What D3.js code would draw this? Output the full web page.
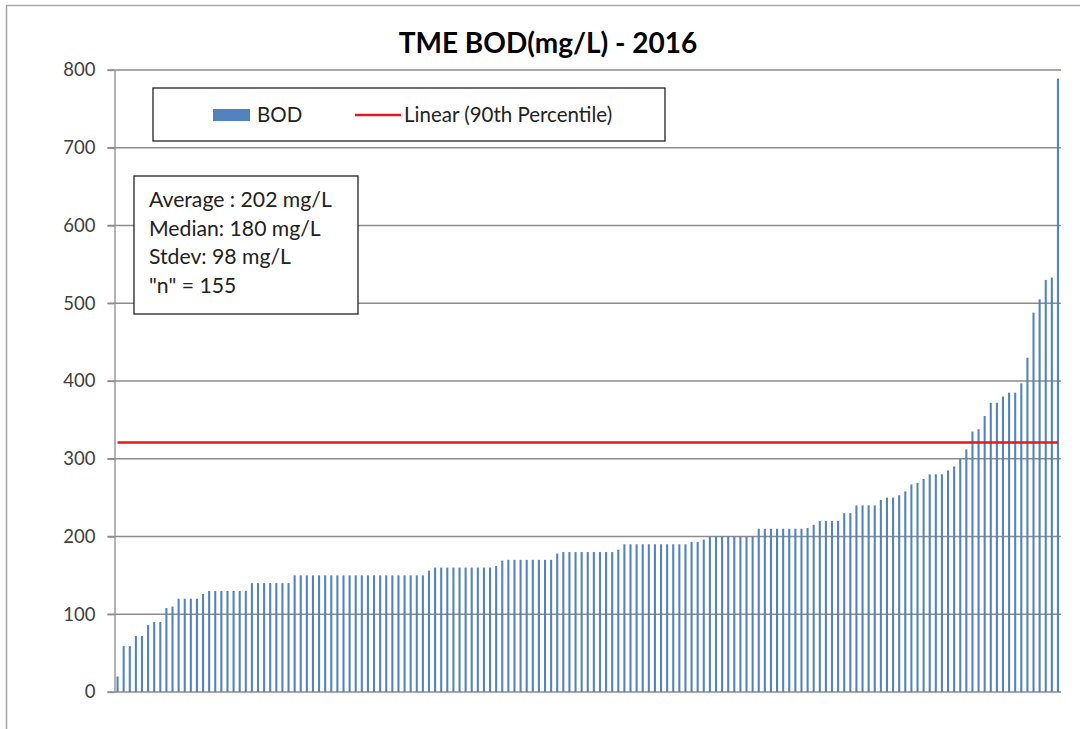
<!DOCTYPE html>
<html lang="en">
<head>
    <meta charset="UTF-8">
    <title>TME BOD 2016</title>
    <script src="https://d3js.org/d3.v7.min.js" charset="utf-8"></script>
    <style>
        body { margin: 0; background: #fff; }
        svg { display: block; font-family: Lato, "Open Sans", sans-serif; }
    </style>
</head>
<body>
    <div id="chart"></div>
    <script>
        // BOD samples (mg/L), sorted ascending
        var bodValues = [
            20, 59, 59, 72, 72, 86, 90, 90, 108, 110,
            120, 120, 120, 120, 126, 130, 130, 130, 130, 130,
            130, 130, 140, 140, 140, 140, 140, 140, 140, 150,
            150, 150, 150, 150, 150, 150, 150, 150, 150, 150,
            150, 150, 150, 150, 150, 150, 150, 150, 150, 150,
            150, 156, 160, 160, 160, 160, 160, 160, 160, 160,
            160, 160, 162, 169, 170, 170, 170, 170, 170, 170,
            170, 170, 178, 180, 180, 180, 180, 180, 180, 180,
            180, 180, 183, 190, 190, 190, 190, 190, 190, 190,
            190, 190, 190, 190, 193, 193, 196, 200, 200, 200,
            200, 200, 200, 200, 200, 210, 210, 210, 210, 210,
            210, 210, 210, 211, 215, 220, 220, 220, 220, 230,
            230, 240, 240, 240, 240, 247, 250, 250, 253, 258,
            267, 269, 274, 280, 280, 280, 285, 290, 300, 312,
            335, 338, 355, 372, 372, 380, 385, 385, 397, 430,
            488, 505, 530, 533, 789
        ];
        var percentile90 = 321;
        var yTicks = [0, 100, 200, 300, 400, 500, 600, 700, 800];
        var legendLabels = ['BOD', 'Linear (90th Percentile)'];
        var statsLines = ['Average : 202 mg/L', 'Median: 180 mg/L', 'Stdev: 98 mg/L', '"n" = 155'];
        var chartTitle = 'TME BOD(mg/L) - 2016';

        var svgWidth = 1080;
        var svgHeight = 729;
        var plotLeft = 114.5, plotRight = 1061, plotTop = 70, plotBottom = 692;
        var barColor = '#5283bd';
        var gridColor = '#8c8c8c';

        var svg = d3.select('#chart')
                    .append('svg')
                    .attr('width', svgWidth)
                    .attr('height', svgHeight);

        // outer chart border (runs off the right and bottom edge)
        svg.append('rect')
            .attr('x', 6.5).attr('y', 5.5)
            .attr('width', 1100).attr('height', 800)
            .attr('fill', 'none')
            .attr('stroke', '#a6a6a6')
            .attr('stroke-width', 1.5);

        // scales
        var xScale = d3.scaleBand()
                        .domain(d3.range(bodValues.length))
                        .range([plotLeft, plotRight])
                        .paddingInner(0.66)
                        .paddingOuter(0.33);

        var yScale = d3.scaleLinear()
                        .domain([0, 800])
                        .range([plotBottom, plotTop]);

        // gridlines
        svg.append('g')
            .selectAll('line')
            .data(yTicks)
            .enter()
            .append('line')
            .attr('x1', plotLeft - 7)
            .attr('x2', plotRight)
            .attr('y1', d => yScale(d))
            .attr('y2', d => yScale(d))
            .attr('stroke', gridColor)
            .attr('stroke-width', 1.3);

        // y axis
        var yAxis = d3.axisLeft(yScale)
                        .tickValues(yTicks)
                        .tickSize(7)
                        .tickSizeOuter(0)
                        .tickPadding(12);

        var yAxisG = svg.append('g')
            .attr('transform', 'translate(' + plotLeft + ',0)')
            .call(yAxis);
        yAxisG.select('.domain').attr('stroke', gridColor).attr('stroke-width', 1.3);
        yAxisG.selectAll('.tick line').attr('stroke', gridColor).attr('stroke-width', 1.3);
        yAxisG.selectAll('.tick text')
            .attr('fill', '#404040')
            .style('font-family', 'Lato, sans-serif')
            .style('font-size', '18.5px');

        // bars
        svg.append('g')
            .selectAll('rect')
            .data(bodValues)
            .enter()
            .append('rect')
            .attr('x', (d, i) => xScale(i))
            .attr('y', d => yScale(d))
            .attr('width', xScale.bandwidth())
            .attr('height', d => yScale(0) - yScale(d))
            .attr('fill', barColor);

        // 90th percentile line
        var half = xScale.bandwidth() / 2;
        svg.append('line')
            .attr('x1', xScale(0) + half)
            .attr('x2', xScale(bodValues.length - 1) + half)
            .attr('y1', yScale(percentile90))
            .attr('y2', yScale(percentile90))
            .attr('stroke', '#e31a1c')
            .attr('stroke-width', 2.5);

        // title
        svg.append('text')
            .attr('x', 548)
            .attr('y', 53)
            .attr('text-anchor', 'middle')
            .style('font-size', '28px')
            .style('font-weight', 'bold')
            .attr('fill', '#000')
            .text(chartTitle);

        // legend
        var legend = svg.append('g');
        legend.append('rect')
            .attr('x', 153).attr('y', 88)
            .attr('width', 512).attr('height', 53)
            .attr('fill', '#fff')
            .attr('stroke', '#222')
            .attr('stroke-width', 1.3);
        legend.append('rect')
            .attr('x', 213).attr('y', 109)
            .attr('width', 37).attr('height', 12)
            .attr('fill', barColor);
        legend.append('text')
            .attr('x', 257).attr('y', 122)
            .style('font-size', '20.5px')
            .attr('fill', '#222')
            .text(legendLabels[0]);
        legend.append('line')
            .attr('x1', 355).attr('x2', 401)
            .attr('y1', 115).attr('y2', 115)
            .attr('stroke', '#e31a1c')
            .attr('stroke-width', 2.5);
        legend.append('text')
            .attr('x', 404).attr('y', 122)
            .style('font-size', '20.5px')
            .attr('fill', '#222')
            .text(legendLabels[1]);

        // summary stats box
        var stats = svg.append('g');
        stats.append('rect')
            .attr('x', 134).attr('y', 176)
            .attr('width', 224).attr('height', 138)
            .attr('fill', '#fff')
            .attr('stroke', '#222')
            .attr('stroke-width', 1.3);
        stats.selectAll('text')
            .data(statsLines)
            .enter()
            .append('text')
            .attr('x', 149)
            .attr('y', (d, i) => 207 + i * 28.7)
            .style('font-size', '21.2px')
            .attr('fill', '#222')
            .text(d => d);
    </script>
</body>
</html>
